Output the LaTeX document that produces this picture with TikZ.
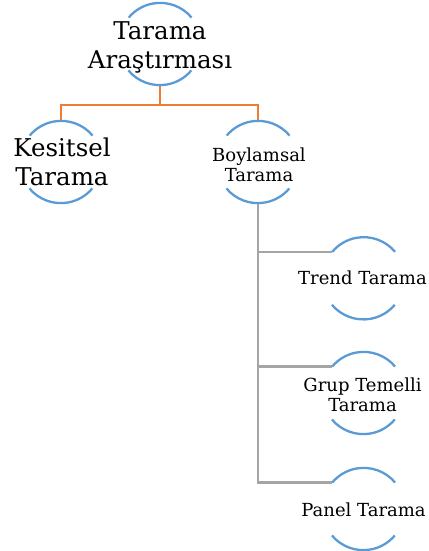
\documentclass[tikz,border=0pt]{standalone}
\usepackage{fontspec}
\setmainfont{DejaVu Serif}
\definecolor{ublue}{HTML}{5B9BD5}
\definecolor{uorange}{HTML}{ED7D31}
\definecolor{ugray}{HTML}{A5A5A5}
\begin{document}
\begin{tikzpicture}[x=1pt,y=-1pt,
  holder/.style={circle,minimum size=82pt,inner sep=0pt},
  arcline/.style={ublue,line width=2.3pt},
  bigtext/.style={align=center,font=\fontsize{24.5}{28.5}\selectfont,inner sep=0pt},
  smalltext/.style={align=center,font=\fontsize{18}{20}\selectfont,inner sep=0pt},
  oline/.style={uorange,line width=2.3pt},
  gline/.style={ugray,line width=2.5pt}]
\useasboundingbox (0,0) rectangle (428,551);
% circle holders
\node[holder] (top)   at (160,44)    {};
\node[holder] (kes)   at (61,162)    {};
\node[holder] (boy)   at (258,162)   {};
\node[holder] (trend) at (363.5,278.3) {};
\node[holder] (grup)  at (363.5,393) {};
\node[holder] (panel) at (363.5,509) {};
% connectors
\coordinate (hb) at (160,105);
\draw[oline] (top.south) -- (hb) -| (kes.north);
\draw[oline] (hb) -| (boy.north);
\draw[gline] (boy.south) |- (trend.140);
\draw[gline] (boy.south) |- (grup.140);
\draw[gline] (boy.south) |- (panel.140);
% arcs
\foreach \n in {top,kes,boy,trend,grup,panel}{
  \draw[arcline] (\n.40) arc[start angle=40,end angle=140,radius=41pt];
  \draw[arcline] (\n.220) arc[start angle=220,end angle=320,radius=41pt];
}
% texts
\node[bigtext] (toptext) at (160,47.6) {Tarama\\Araştırması};
\node[bigtext] (kestext) at (62,161.9) {Kesitsel\\Tarama};
\node[smalltext] (boytext) at (259,165) {Boylamsal\\Tarama};
\node[smalltext] (trendtext) at (362.5,277.5) {Trend Tarama};
\node[smalltext] (gruptext) at (362.5,394.5) {Grup Temelli\\Tarama};
\node[smalltext] (paneltext) at (363.5,509.9) {Panel Tarama};
\end{tikzpicture}
\end{document}
